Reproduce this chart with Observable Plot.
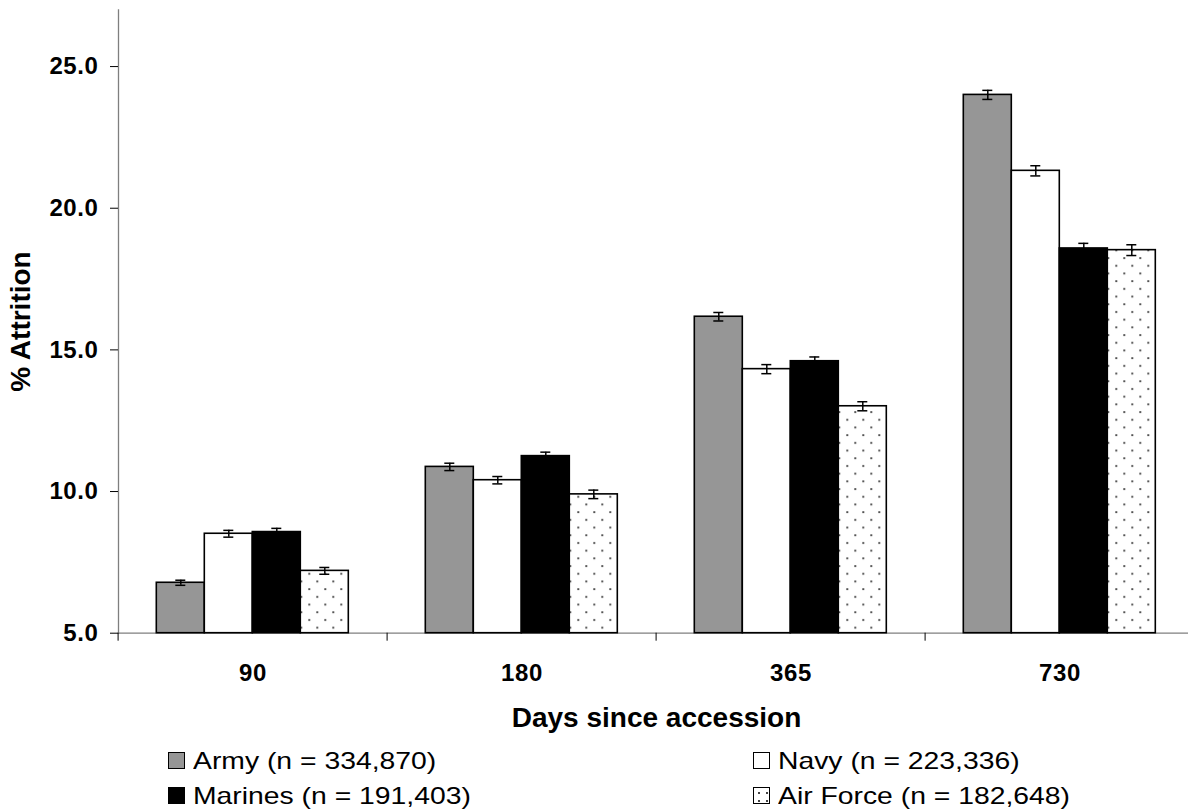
<!DOCTYPE html>
<html>
<head>
<meta charset="utf-8">
<script src="https://cdn.jsdelivr.net/npm/d3@7"></script>
<script src="https://cdn.jsdelivr.net/npm/@observablehq/plot@0.6"></script>
<style>
  html, body { margin: 0; padding: 0; background: #fff; overflow: hidden; }
  #wrap { position: relative; width: 1188px; height: 811px; font-family: "Liberation Sans", Arial, sans-serif; }
  #chart { position: absolute; left: 0; top: 0; }
  .sw { position: absolute; width: 17px; height: 17px; box-sizing: border-box; border: 1.3px solid #000; }
  .lt { position: absolute; font-size: 24px; line-height: 24px; white-space: nowrap; color: #000; transform: scaleX(1.18); transform-origin: left center; }
  svg text { letter-spacing: 0.6px; }
</style>
</head>
<body>
<div id="wrap">
  <div id="chart"></div>
  <div id="legend"></div>
</div>
<script>
// ---- data ----
const categories = ["90", "180", "365", "730"];
const seriesNames = ["Army (n = 334,870)", "Navy (n = 223,336)", "Marines (n = 191,403)", "Air Force (n = 182,648)"];
const army     = [6.78, 10.87, 16.17, 24.00];
const navy     = [8.51, 10.40, 14.32, 21.32];
const marines  = [8.57, 11.25, 14.60, 18.58];
const airForce = [7.20,  9.90, 13.01, 18.52];
const armyErr     = [0.09, 0.13, 0.15, 0.16];
const navyErr     = [0.12, 0.13, 0.16, 0.18];
const marinesErr  = [0.13, 0.14, 0.15, 0.18];
const airForceErr = [0.12, 0.15, 0.16, 0.19];
const yTicks = [5, 10, 15, 20, 25];
const xTitle = "Days since accession";
const yTitle = "% Attrition";

// ---- build table ----
const values = [army, navy, marines, airForce];
const errs = [armyErr, navyErr, marinesErr, airForceErr];
const fills = ["#969696", "#ffffff", "#000000", "url(#dots)"];
const fillOf = Object.fromEntries(seriesNames.map((s, i) => [s, fills[i]]));
const table = [];
seriesNames.forEach((s, si) => categories.forEach((c, ci) => {
  table.push({cat: c, series: s, value: values[si][ci], err: errs[si][ci]});
}));

const axisGray = "#7f7f7f";

const svg = Plot.plot({
  width: 1188,
  height: 745,
  marginTop: 9.4,
  marginBottom: 112.3,
  marginLeft: 116.7,
  marginRight: -8,
  style: {fontFamily: "'Liberation Sans', Arial, sans-serif", background: "white", overflow: "visible"},
  fx: {domain: categories, padding: 0},
  x: {domain: seriesNames, paddingInner: 0, paddingOuter: 0.75, axis: null},
  y: {domain: [5, 27]},
  color: {type: "identity"},
  marks: [
    Plot.ruleY([5], {stroke: axisGray, strokeWidth: 1.3}),
    Plot.frame({anchor: "left", facetAnchor: "left", stroke: axisGray, strokeWidth: 1.3}),
    Plot.barY(table, {fx: "cat", x: "series", y1: 5, y2: "value", fill: d => fillOf[d.series], stroke: "#000", strokeWidth: 1.6}),
    Plot.ruleX(table, {fx: "cat", x: "series", y1: d => d.value - d.err, y2: d => d.value + d.err, stroke: "#000", strokeWidth: 1.5}),
    Plot.tickY(table, {fx: "cat", x: "series", y: d => d.value + d.err, insetLeft: 19, insetRight: 19, stroke: "#000", strokeWidth: 1.5}),
    Plot.tickY(table, {fx: "cat", x: "series", y: d => d.value - d.err, insetLeft: 19, insetRight: 19, stroke: "#000", strokeWidth: 1.5}),
    Plot.axisY({ticks: yTicks, tickFormat: d3.format(".1f"), tickSize: 8, tickPadding: 12, fontSize: 24, fontWeight: "bold",
      label: yTitle, labelArrow: "none", labelAnchor: "center", labelOffset: 108}),
    Plot.axisFx({anchor: "bottom", tickSize: 0, tickPadding: 30.6, fontSize: 24, fontWeight: "bold",
      label: xTitle, labelArrow: "none", labelAnchor: "center", labelOffset: 94}),
    Plot.axisFx({anchor: "bottom", tickSize: 8, tickFormat: () => "", dx: -134.9, label: null})
  ]
});

svg.insertAdjacentHTML("afterbegin",
  '<defs><pattern id="dots" patternUnits="userSpaceOnUse" width="16" height="15.4">' +
  '<rect width="16" height="15.4" fill="#fff"/>' +
  '<circle cx="4" cy="4" r="1.05" fill="#444"/>' +
  '<circle cx="12" cy="11.7" r="1.05" fill="#444"/></pattern></defs>');

// axis styling tweaks
svg.querySelectorAll('[aria-label$="-axis tick"]').forEach(g => g.setAttribute("stroke", axisGray));
svg.querySelectorAll('[aria-label$="-axis label"]').forEach(g => {
  g.setAttribute("font-size", "28");
  g.setAttribute("font-weight", "bold");
  g.querySelectorAll("text").forEach(t => {
    t.style.letterSpacing = "0px";
    t.textContent = t.textContent.replace(/\s*[→←↑↓]\s*/g, "");
  });
});

document.getElementById("chart").appendChild(svg);

// ---- legend ----
const legendPos = [
  {sw: [168, 752], tx: [193, 749]},
  {sw: [753, 752], tx: [778, 749]},
  {sw: [168, 787], tx: [193, 784]},
  {sw: [753, 787], tx: [778, 784]}
];
const swStyle = [
  "background:#969696",
  "background:#fff",
  "background:#000",
  "background-color:#fff;background-image:radial-gradient(circle, #444 1px, transparent 1.3px);background-size:8px 8px;background-position:1px 1px"
];
const leg = document.getElementById("legend");
seriesNames.forEach((s, i) => {
  const p = legendPos[i];
  const sw = document.createElement("div");
  sw.className = "sw";
  sw.style.cssText = `left:${p.sw[0]}px;top:${p.sw[1]}px;${swStyle[i]}`;
  leg.appendChild(sw);
  const t = document.createElement("div");
  t.className = "lt";
  t.style.left = p.tx[0] + "px";
  t.style.top = p.tx[1] + "px";
  t.textContent = s;
  leg.appendChild(t);
});
</script>
</body>
</html>
